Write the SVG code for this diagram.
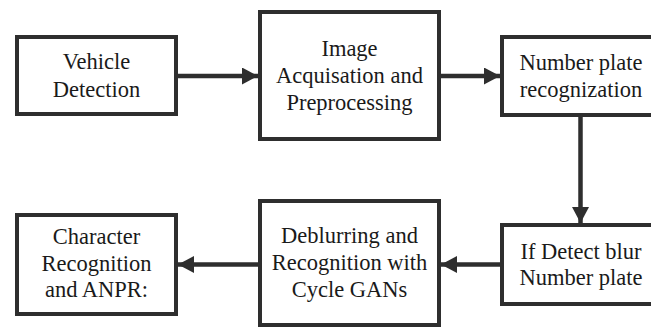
<svg xmlns="http://www.w3.org/2000/svg" width="651" height="329" viewBox="0 0 651 329">
  <style>
    .box { fill: #ffffff; stroke: #2e2e2e; stroke-width: 4; }
    .label { font-family: "Liberation Serif", "Times New Roman", Times, Tinos, "Noto Serif", "DejaVu Serif", FreeSerif, serif; font-size: 22.5px; fill: #1a1a1a; text-anchor: middle; }
    .conn { stroke: #2e2e2e; stroke-width: 4.5; fill: none; marker-end: url(#head); }
  </style>
  <defs>
    <marker id="head" markerUnits="userSpaceOnUse" markerWidth="17" markerHeight="18" refX="16" refY="8.5" orient="auto">
      <path d="M0,0 L16,8.5 L0,17 z" fill="#2e2e2e"/>
    </marker>
  </defs>
  <rect width="651" height="329" fill="#ffffff"/>

  <g id="connectors">
    <line class="conn" x1="178" y1="76" x2="258" y2="76"/>
    <line class="conn" x1="441" y1="76" x2="500" y2="76"/>
    <line class="conn" x1="580.5" y1="117" x2="580.5" y2="223"/>
    <line class="conn" x1="500" y1="264.5" x2="441" y2="264.5"/>
    <line class="conn" x1="258" y1="264.5" x2="178" y2="264.5"/>
  </g>

  <g id="vehicle-detection">
    <rect class="box" x="17" y="37" width="159" height="77"/>
    <text class="label" x="96.5" y="69">Vehicle</text>
    <text class="label" x="96.5" y="97">Detection</text>
  </g>

  <g id="image-acquisition">
    <rect class="box" x="260" y="12" width="179" height="127"/>
    <text class="label" x="349.5" y="55.5">Image</text>
    <text class="label" x="349.5" y="82.5">Acquisation and</text>
    <text class="label" x="349.5" y="110">Preprocessing</text>
  </g>

  <g id="plate-recognition">
    <rect class="box" x="502" y="37" width="160" height="78"/>
    <text class="label" x="581" y="70">Number plate</text>
    <text class="label" x="581" y="96.5">recognization</text>
  </g>

  <g id="blur-check">
    <rect class="box" x="502" y="225" width="160" height="79"/>
    <text class="label" x="581" y="258.5">If Detect blur</text>
    <text class="label" x="581" y="284.5">Number plate</text>
  </g>

  <g id="deblurring">
    <rect class="box" x="260" y="201" width="179" height="124"/>
    <text class="label" x="349.5" y="243">Deblurring and</text>
    <text class="label" x="349.5" y="270">Recognition with</text>
    <text class="label" x="349.5" y="297">Cycle GANs</text>
  </g>

  <g id="character-recognition">
    <rect class="box" x="17" y="215" width="159" height="99"/>
    <text class="label" x="96.5" y="244">Character</text>
    <text class="label" x="96.5" y="270.5">Recognition</text>
    <text class="label" x="96.5" y="297">and ANPR:</text>
  </g>
</svg>
